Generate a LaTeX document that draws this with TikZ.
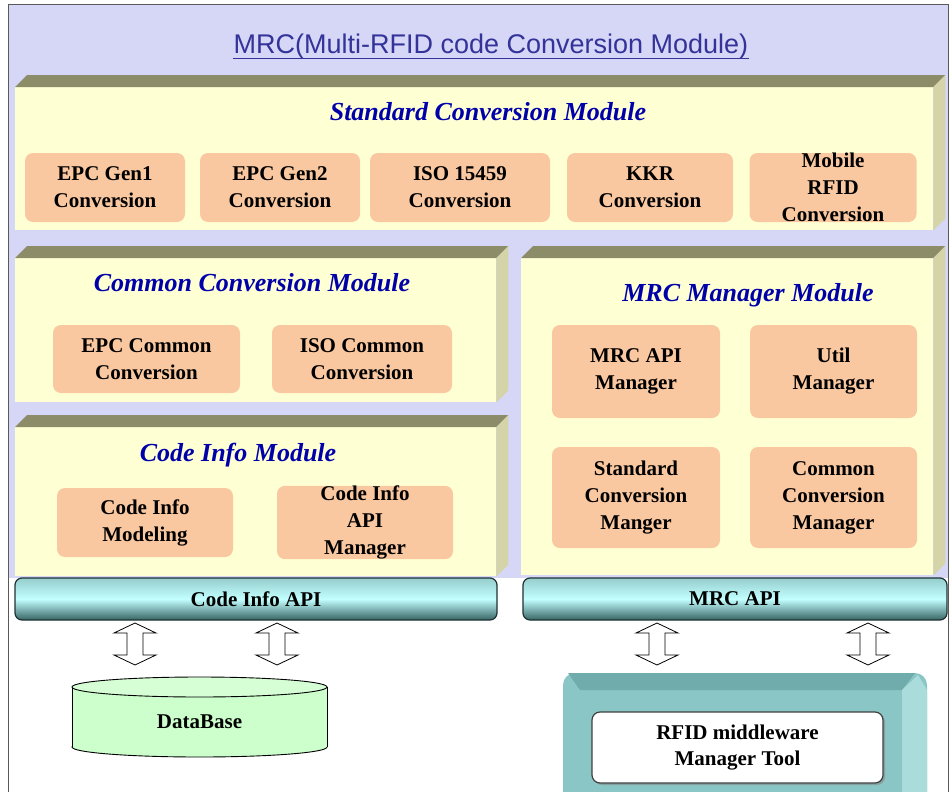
\documentclass[tikz,border=0pt]{standalone}
\usepackage{fontspec}
\setmainfont{Liberation Serif}
\newfontfamily\titlefont{Liberation Sans}
\usetikzlibrary{calc,shadows}

\definecolor{lav}{RGB}{214,214,247}
\definecolor{face}{RGB}{255,255,212}
\definecolor{bevtop}{RGB}{140,140,104}
\definecolor{bevside}{RGB}{212,212,168}
\definecolor{orng}{RGB}{250,200,160}
\definecolor{ttlblue}{RGB}{51,51,153}
\definecolor{modblue}{RGB}{0,0,170}
\definecolor{dbgreen}{RGB}{204,255,204}
\definecolor{tealbox}{RGB}{138,198,198}
\definecolor{tealtop}{RGB}{112,172,172}
\definecolor{tealside}{RGB}{170,220,220}
\definecolor{barhi}{RGB}{195,255,255}
\definecolor{bartop}{RGB}{150,205,205}
\definecolor{barlow}{RGB}{55,100,100}
\definecolor{bardraw}{RGB}{30,50,50}

\tikzset{
  paneface/.style={fill=face, draw=none, inner sep=0, anchor=north west},
  unit/.style={fill=orng, rounded corners=8pt, inner sep=0, align=center,
    font=\fontsize{21}{27}\selectfont\bfseries},
  modtitle/.style={text=modblue, inner sep=0,
    font=\fontsize{26}{30}\selectfont\bfseries\itshape},
  apibar/.style={draw=bardraw, line width=1.2pt, rounded corners=7pt,
    top color=bartop, bottom color=barlow, middle color=barhi, inner sep=0,
    minimum height=42pt, font=\fontsize{21}{26}\selectfont\bfseries},
  updown/.pic={
    \draw[fill=white, line width=0.8pt]
      (0,-21) -- (21,-11) -- (8,-11) -- (8,11) -- (21,11) -- (0,21)
      -- (-21,11) -- (-8,11) -- (-8,-11) -- (-21,-11) -- cycle;
  },
}

% top and right bevels of a module panel
\newcommand\panelbevel[1]{%
  \fill[bevtop] (#1.north west) -- ++(12,-12) -- ($(#1.north east)+(12,-12)$)
    -- (#1.north east) -- cycle;
  \fill[bevside] (#1.north east) -- ++(12,-12) -- ($(#1.south east)+(12,-12)$)
    -- (#1.south east) -- cycle;
}

\begin{document}
\begin{tikzpicture}[x=1pt,y=-1pt]
\useasboundingbox (0,0) rectangle (950,792);
\clip (0,0) rectangle (950,792);

% frame and background
\fill[white] (0,0) rectangle (950,792);
\fill[lav] (8,5) rectangle (948,578);
\draw[gray!70!black, line width=1pt] (8,800) -- (8,5) -- (948,5) -- (948,800);

% title
\node[anchor=base, inner sep=0, text=ttlblue,
      font=\titlefont\fontsize{27}{30}\selectfont] (title) at (491,53)
  {MRC(Multi-RFID code Conversion Module)};
\draw[ttlblue, line width=1pt] ($(title.base west)+(0,6)$) -- ($(title.base east)+(0,6)$);

% module panels
\node[paneface, minimum width=918pt, minimum height=143pt] (stdp) at (15,87) {};
\node[paneface, minimum width=481pt, minimum height=144pt] (comp) at (15,258) {};
\node[paneface, minimum width=481pt, minimum height=149pt] (infop) at (15,427) {};
\node[paneface, minimum width=412pt, minimum height=317pt] (mgrp) at (521,258) {};
\panelbevel{stdp}
\panelbevel{comp}
\panelbevel{infop}
\panelbevel{mgrp}

% panel titles
\node[modtitle] (stdt) at (488,112) {Standard Conversion Module};
\node[modtitle] (comt) at (252,283) {Common Conversion Module};
\node[modtitle] (infot) at (238,455) {Code Info Module};
\node[modtitle] (mgrt) at (748,295) {MRC Manager Module};

% standard conversion units
\node[unit, minimum width=160pt, minimum height=69pt] (g1) at (105,187.5) {EPC Gen1\\Conversion};
\node[unit, minimum width=160pt, minimum height=69pt] (g2) at (280,187.5) {EPC Gen2\\Conversion};
\node[unit, minimum width=180pt, minimum height=69pt] (iso) at (460,187.5) {ISO 15459\\Conversion};
\node[unit, minimum width=166pt, minimum height=69pt] (kkr) at (650,187.5) {KKR\\Conversion};
\node[unit, minimum width=167pt, minimum height=69pt] (mob) at (833,187.5) {Mobile\\RFID\\Conversion};

% common conversion units
\node[unit, minimum width=187pt, minimum height=68pt] (epcc) at (146.5,359) {EPC Common\\Conversion};
\node[unit, minimum width=180pt, minimum height=68pt] (isoc) at (362,359) {ISO Common\\Conversion};

% code info units
\node[unit, minimum width=176pt, minimum height=69pt] (cim) at (145,522.5) {Code Info\\Modeling};
\node[unit, minimum width=176pt, minimum height=69pt] (cia) at (365,522.5) {Code Info\\API\\Manager};

% manager units
\node[unit, minimum width=168pt, minimum height=93pt] (apim) at (636,371.5) {MRC API\\Manager};
\node[unit, minimum width=167pt, minimum height=93pt] (utilm) at (833.5,371.5) {Util\\Manager};
\node[unit, minimum width=168pt, minimum height=101pt] (stdm) at (636,497.5) {Standard\\Conversion\\Manger};
\node[unit, minimum width=167pt, minimum height=101pt] (comm) at (833.5,497.5) {Common\\Conversion\\Manager};

% API bars
\node[apibar, minimum width=482pt] (ciapi) at (256,599) {Code Info API};
\node[apibar, minimum width=424pt] (mrcapi) at (735,599) {MRC API};

% database cylinder
\fill[dbgreen] (199.5,747) ellipse [x radius=127.5pt, y radius=10pt];
\draw[line width=0.9pt] (199.5,747) ellipse [x radius=127.5pt, y radius=10pt];
\fill[dbgreen] (72,687) rectangle (327,747);
\draw[line width=0.9pt] (72,687) -- (72,747) (327,687) -- (327,747);
\draw[line width=0.9pt, fill=dbgreen!80!white] (199.5,687) ellipse [x radius=127.5pt, y radius=10pt];
\node[inner sep=0, font=\fontsize{21}{26}\selectfont\bfseries] (db) at (199.5,722) {DataBase};

% middleware tool block
\fill[tealbox, rounded corners=12pt] (563,673) rectangle (927,810);
\fill[tealtop] (568,673) -- (915,673) -- (902,690) -- (580,690) -- cycle;
\fill[tealside] (902,690) -- (918,675) -- (927,690) -- (927,792) -- (902,792) -- cycle;
\node[draw=black!75, line width=1.2pt, fill=white, rounded corners=8pt,
      minimum width=291pt, minimum height=71pt, inner sep=0, align=center,
      drop shadow={shadow xshift=2pt, shadow yshift=-2pt, opacity=0.5},
      font=\fontsize{21}{26}\selectfont\bfseries] (tool) at (737.5,747.5)
  {RFID middleware\\Manager Tool};

% two-way links between the API bars and what lies below them
\pic at (135,644) {updown};
\pic at (277,644) {updown};
\pic at (657,644) {updown};
\pic at (868,644) {updown};
\end{tikzpicture}
\end{document}
